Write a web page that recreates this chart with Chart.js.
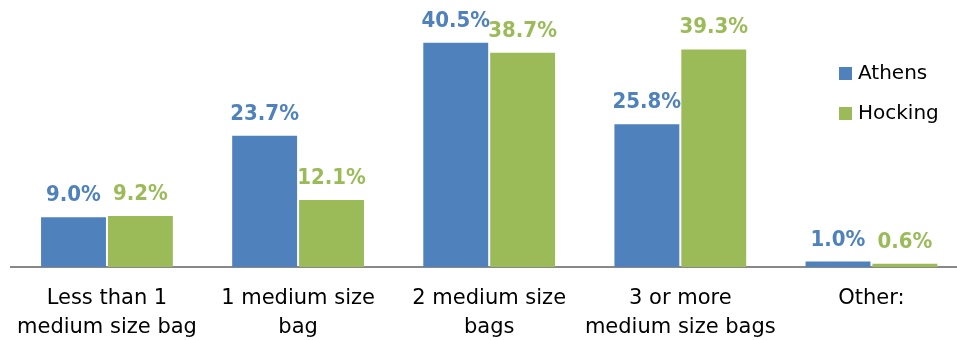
<!DOCTYPE html>
<html>
<head>
<meta charset="utf-8">
<script src="https://cdn.jsdelivr.net/npm/chart.js@4"></script>
<style>
  html, body { margin: 0; padding: 0; background: #fff; overflow: hidden; }
  #wrap { width: 967px; height: 340px; }
</style>
</head>
<body>
<div id="wrap"><canvas id="bagsChart"></canvas></div>
<script>
// --- data ---
const categories = [
    ['Less than 1', 'medium size bag'],
    ['1 medium size', 'bag'],
    ['2 medium size', 'bags'],
    ['3 or more', 'medium size bags'],
    ['Other:']
];
const seriesNames = ['Athens', 'Hocking'];
const athensValues = [9.0, 23.7, 40.5, 25.8, 1.0];
const hockingValues = [9.2, 12.1, 38.7, 39.3, 0.6];
const seriesColors = ['#4F81BD', '#9BBB59'];

// labels above each bar, coloured like the bar
const valueLabels = {
    id: 'valueLabels',
    afterDatasetsDraw(chart) {
        const ctx = chart.ctx;
        ctx.save();
        ctx.font = 'bold 22px "DejaVu Sans Condensed", "DejaVu Sans"';
        ctx.textAlign = 'center';
        ctx.textBaseline = 'alphabetic';
        chart.data.datasets.forEach((ds, i) => {
            ctx.fillStyle = ds.backgroundColor;
            chart.getDatasetMeta(i).data.forEach((bar, j) => {
                ctx.fillText(ds.data[j].toFixed(1) + '%', bar.x, bar.y - 16);
            });
        });
        ctx.restore();
    }
};

// legend sitting over the right edge of the plot
const sideLegend = {
    id: 'sideLegend',
    afterDraw(chart) {
        const ctx = chart.ctx;
        ctx.save();
        ctx.font = '20px "DejaVu Sans"';
        ctx.textBaseline = 'middle';
        ctx.textAlign = 'left';
        chart.data.datasets.forEach((ds, i) => {
            const y = 74 + i * 40;
            ctx.fillStyle = ds.backgroundColor;
            ctx.fillRect(839, y - 7, 13, 13);
            ctx.fillStyle = '#000';
            ctx.fillText(ds.label, 858, y);
        });
        ctx.restore();
    }
};

const ctx = document.getElementById('bagsChart').getContext('2d');
const bagsChart = new Chart(ctx, {
    type: 'bar',
    data: {
        labels: categories,
        datasets: [{
            label: seriesNames[0],
            data: athensValues,
            backgroundColor: seriesColors[0]
        }, {
            label: seriesNames[1],
            data: hockingValues,
            backgroundColor: seriesColors[1]
        }]
    },
    options: {
        responsive: true,
        maintainAspectRatio: false,
        animation: false,
        categoryPercentage: 0.7,
        barPercentage: 0.97,
        layout: { padding: { top: 29, left: 0, right: 0, bottom: -19 } },
        scales: {
            x: {
                grid: { display: false, drawTicks: false },
                border: { display: true, color: '#888888', width: 2 },
                ticks: {
                    color: '#000',
                    padding: 17,
                    maxRotation: 0,
                    autoSkip: false,
                    font: { family: '"DejaVu Sans"', size: 21, lineHeight: 1.38 }
                }
            },
            y: {
                display: false,
                min: 0,
                max: 43
            }
        },
        plugins: {
            legend: { display: false },
            tooltip: { enabled: false }
        }
    },
    plugins: [valueLabels, sideLegend]
});
</script>
</body>
</html>
